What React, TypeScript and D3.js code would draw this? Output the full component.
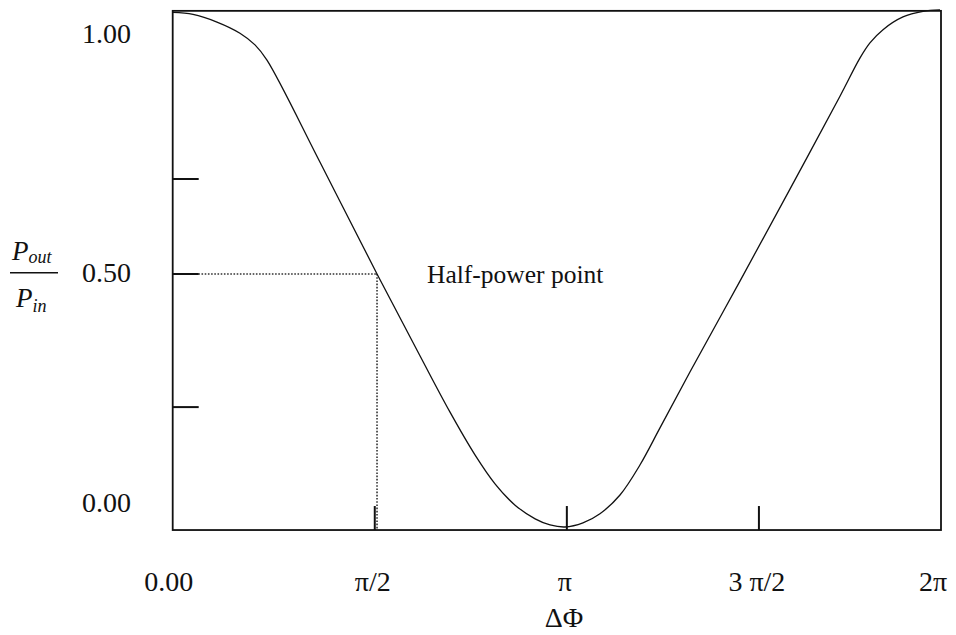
import React from "react";
import * as d3 from "d3";

const PI = Math.PI;

// Phase difference ΔΦ (rad) along the transfer curve
const phaseShift = [
  0, 0.166, 0.362, 0.55, 0.673, 0.771, 1.205, 1.671, 2.022, 2.268, 2.472,
  2.636, 2.8, 2.964, 3.086, 3.208, 3.355, 3.494, 3.658, 3.821, 3.985, 4.23,
  4.639, 5.048, 5.457, 5.62, 5.702, 5.809, 5.972, 6.136, 6.275,
];
// Normalised output power P_out / P_in at each phase
const powerRatio = [
  1.015, 1.011, 0.996, 0.974, 0.951, 0.921, 0.72, 0.5, 0.339, 0.228, 0.144,
  0.087, 0.045, 0.018, 0.006, 0.002, 0.01, 0.028, 0.065, 0.124, 0.197, 0.307,
  0.486, 0.667, 0.85, 0.925, 0.955, 0.981, 1.006, 1.017, 1.02,
];

// x axis: labelled positions and the inner tick marks
const xLabelValues = [0, PI / 2, PI, (3 * PI) / 2, 2 * PI];
const xLabelTexts = ["0.00", "π/2", "π", "3 π/2", "2π"];
const xTickValues = [PI / 2, PI, (3 * PI) / 2];

// y axis: labelled values and inner tick marks
const yLabelValues = [1, 0.5, 0];
const yLabelTexts = ["1.00", "0.50", "0.00"];
const yTickValues = [0.687, 0.5, 0.238];

// the half-power point on the falling edge
const halfPowerPhase = 1.671;
const halfPowerLevel = 0.5;

const Y_MIN = -0.004;
const Y_MAX = 1.018;

const W = 956;
const H = 635;
const FONT = "'Liberation Serif', 'Times New Roman', serif";
const TICK_OFFSET = 10;
const TICK_LEN = 24;

export default function App() {
  const x = d3.scaleLinear().domain([0, 2 * PI]).range([172.7, 941]);
  const y = d3.scaleLinear().domain([0, 1]).range([528, 20]);

  const pts: [number, number][] = phaseShift.map((p, i) => [p, powerRatio[i]]);
  const line = d3
    .line<[number, number]>()
    .x((d) => x(d[0]))
    .y((d) => y(d[1]))
    .curve(d3.curveCatmullRom.alpha(0.5));

  const left = x(0);
  const right = x(2 * PI);
  const top = y(Y_MAX);
  const bottom = y(Y_MIN);

  const hx = x(halfPowerPhase);
  const hy = y(halfPowerLevel);

  const labelX = (v: number, i: number) => {
    if (i === 0) return x(v) - 4;
    if (i === xLabelValues.length - 1) return x(v) - 8;
    return x(v) + TICK_OFFSET - 2;
  };
  const labelY = (v: number, i: number) => {
    if (i === 0) return y(v) + 13;
    if (i === yLabelValues.length - 1) return y(v) - 26;
    return y(v) - 2;
  };

  return (
    <svg
      width={W}
      height={H}
      style={{ position: "absolute", left: 0, top: 0, background: "#fff" }}
      fontFamily={FONT}
    >
      <rect x={0} y={0} width={W} height={H} fill="#fff" />

      {/* half-power guides */}
      <g stroke="#333" strokeWidth={1.6} strokeDasharray="1.6,1.6" fill="none">
        <line x1={left} y1={hy} x2={hx} y2={hy} />
        <line x1={hx} y1={hy} x2={hx} y2={bottom} />
      </g>

      {/* transfer curve */}
      <path d={line(pts) ?? ""} fill="none" stroke="#111" strokeWidth={1.3} />

      {/* frame */}
      <rect
        x={left}
        y={top}
        width={right - left}
        height={bottom - top}
        fill="none"
        stroke="#111"
        strokeWidth={1.8}
      />

      {/* y ticks */}
      {yTickValues.map((v) => (
        <line
          key={"yt" + v}
          x1={left}
          x2={left + TICK_LEN + 2}
          y1={y(v)}
          y2={y(v)}
          stroke="#111"
          strokeWidth={2}
        />
      ))}

      {/* x ticks */}
      {xTickValues.map((v) => (
        <line
          key={"xt" + v}
          x1={x(v) + TICK_OFFSET}
          x2={x(v) + TICK_OFFSET}
          y1={bottom}
          y2={bottom - TICK_LEN}
          stroke="#111"
          strokeWidth={2}
        />
      ))}

      {/* y labels */}
      {yLabelValues.map((v, i) => (
        <text
          key={"yl" + v}
          x={131}
          y={labelY(v, i)}
          dy="0.35em"
          textAnchor="end"
          fontSize={28}
          fill="#111"
        >
          {yLabelTexts[i]}
        </text>
      ))}

      {/* x labels */}
      {xLabelValues.map((v, i) => (
        <text
          key={"xl" + i}
          x={labelX(v, i)}
          y={591}
          textAnchor="middle"
          fontSize={28}
          fill="#111"
        >
          {xLabelTexts[i]}
        </text>
      ))}

      {/* x axis title */}
      <text x={564} y={627} textAnchor="middle" fontSize={28} fill="#111">
        ΔΦ
      </text>

      {/* y axis title: P_out / P_in */}
      <g fill="#111" fontStyle="italic">
        <text x={12} y={260} fontSize={27}>
          P
          <tspan fontSize={18} dy={3}>
            out
          </tspan>
        </text>
        <line x1={10} x2={58} y1={272.7} y2={272.7} stroke="#111" strokeWidth={1.4} />
        <text x={16} y={307} fontSize={27}>
          P
          <tspan fontSize={18} dy={5}>
            in
          </tspan>
        </text>
      </g>

      {/* annotation */}
      <text x={hx + 50} y={hy + 9} fontSize={25.5} fill="#111">
        Half-power point
      </text>
    </svg>
  );
}
